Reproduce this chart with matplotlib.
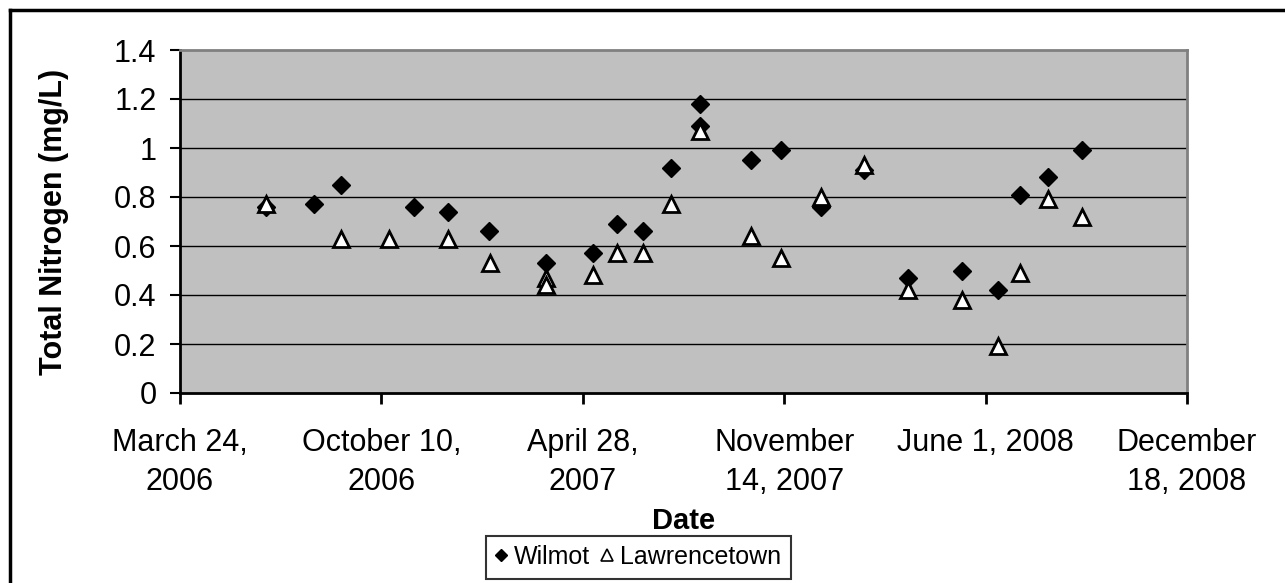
import numpy as np
import pandas as pd
import matplotlib
matplotlib.use("Agg")
import matplotlib.pyplot as plt
import matplotlib.dates as mdates
from matplotlib.lines import Line2D

plt.rcParams['font.family'] = ['Liberation Sans', 'DejaVu Sans']

# Sample dates and total nitrogen readings (mg/L)
wilmot_dates = ["2006-06-17", "2006-08-04", "2006-08-31", "2006-11-11", "2006-12-15",
                "2007-01-25", "2007-03-22", "2007-05-08", "2007-06-01", "2007-06-27",
                "2007-07-25", "2007-08-22", "2007-08-22", "2007-10-12", "2007-11-11",
                "2007-12-21", "2008-02-01", "2008-03-16", "2008-05-09", "2008-06-13",
                "2008-07-05", "2008-08-02", "2008-09-05"]
wilmot_tn = [0.76, 0.77, 0.85, 0.76, 0.74,
             0.66, 0.53, 0.57, 0.69, 0.66,
             0.92, 1.18, 1.09, 0.95, 0.99,
             0.76, 0.91, 0.47, 0.50, 0.42,
             0.81, 0.88, 0.99]

lawrencetown_dates = ["2006-06-17", "2006-08-31", "2006-10-18", "2006-12-15", "2007-01-26",
                      "2007-03-22", "2007-03-22", "2007-05-08", "2007-06-01", "2007-06-27",
                      "2007-07-25", "2007-08-22", "2007-10-12", "2007-11-11", "2007-12-21",
                      "2008-02-01", "2008-03-16", "2008-05-09", "2008-06-13", "2008-07-05",
                      "2008-08-02", "2008-09-05"]
lawrencetown_tn = [0.77, 0.63, 0.63, 0.63, 0.53,
                   0.47, 0.44, 0.48, 0.57, 0.57,
                   0.77, 1.07, 0.64, 0.55, 0.80,
                   0.93, 0.42, 0.38, 0.19, 0.49,
                   0.79, 0.72]

tick_dates = ["2006-03-24", "2006-10-10", "2007-04-28", "2007-11-14", "2008-06-01", "2008-12-18"]
tick_labels = ["March 24,\n2006", "October 10,\n2006", "April 28,\n2007",
               "November\n14, 2007", "June 1, 2008", "December\n18, 2008"]
y_ticks = [0, 0.2, 0.4, 0.6, 0.8, 1, 1.2, 1.4]
y_tick_labels = ["0", "0.2", "0.4", "0.6", "0.8", "1", "1.2", "1.4"]

wd = mdates.date2num(pd.to_datetime(wilmot_dates))
ld = mdates.date2num(pd.to_datetime(lawrencetown_dates))
td = mdates.date2num(pd.to_datetime(tick_dates))

fig = plt.figure(figsize=(12.85, 5.83), dpi=100)
ax = fig.add_axes([180/1285, 1 - 393/583, 1007/1285, 343/583])
ax.set_facecolor("#C0C0C0")

for yv in y_ticks[1:-1]:
    ax.axhline(yv, color="black", lw=1.0, zorder=1)

ax.plot(wd, wilmot_tn, linestyle="none", marker="D", ms=9.5, mfc="black",
        mec="black", zorder=3)
ax.plot(ld, lawrencetown_tn, linestyle="none", marker="^", ms=11.5, mfc="white",
        mec="black", mew=2, zorder=4)

ax.set_xlim(td[0], td[-1])
ax.set_ylim(0, 1.4)
ax.set_xticks(td)
ax.set_xticklabels(tick_labels, linespacing=1.4)
ax.set_yticks(y_ticks)
ax.set_yticklabels(y_tick_labels)

ax.tick_params(axis="x", direction="out", length=8, width=2, pad=17, labelsize=22)
ax.tick_params(axis="y", direction="out", length=7, width=1.5, pad=10, labelsize=22)

for side in ("left", "bottom"):
    ax.spines[side].set_color("black")
    ax.spines[side].set_linewidth(2)
for side in ("top", "right"):
    ax.spines[side].set_color("#808080")
    ax.spines[side].set_linewidth(2)

ax.set_xlabel("Date", fontsize=21, fontweight="bold", labelpad=7)
ax.set_ylabel("Total Nitrogen (mg/L)", fontsize=22, fontweight="bold", labelpad=32)

handles = [Line2D([], [], linestyle="none", marker="D", ms=6.5, mfc="black", mec="black"),
           Line2D([], [], linestyle="none", marker="^", ms=9, mfc="white", mec="black", mew=1.2)]
leg = fig.legend(handles, ["Wilmot", "Lawrencetown"], loc="center",
                 bbox_to_anchor=(638/1285, 1 - 557/583), ncol=2, fontsize=18,
                 frameon=True, fancybox=False, handlelength=0.5, handletextpad=0.25,
                 columnspacing=0.45, borderpad=0.38, borderaxespad=0)
leg.get_frame().set_edgecolor("black")
leg.get_frame().set_linewidth(1.5)

# outer chart frame along the top and left edges
fig.add_artist(Line2D([10/1285, 1.0], [1 - 10/583, 1 - 10/583], color="black", lw=2.5,
                      transform=fig.transFigure))
fig.add_artist(Line2D([10/1285, 10/1285], [0, 1 - 10/583], color="black", lw=2.5,
                      transform=fig.transFigure))

fig.savefig("out.png", dpi=100)
